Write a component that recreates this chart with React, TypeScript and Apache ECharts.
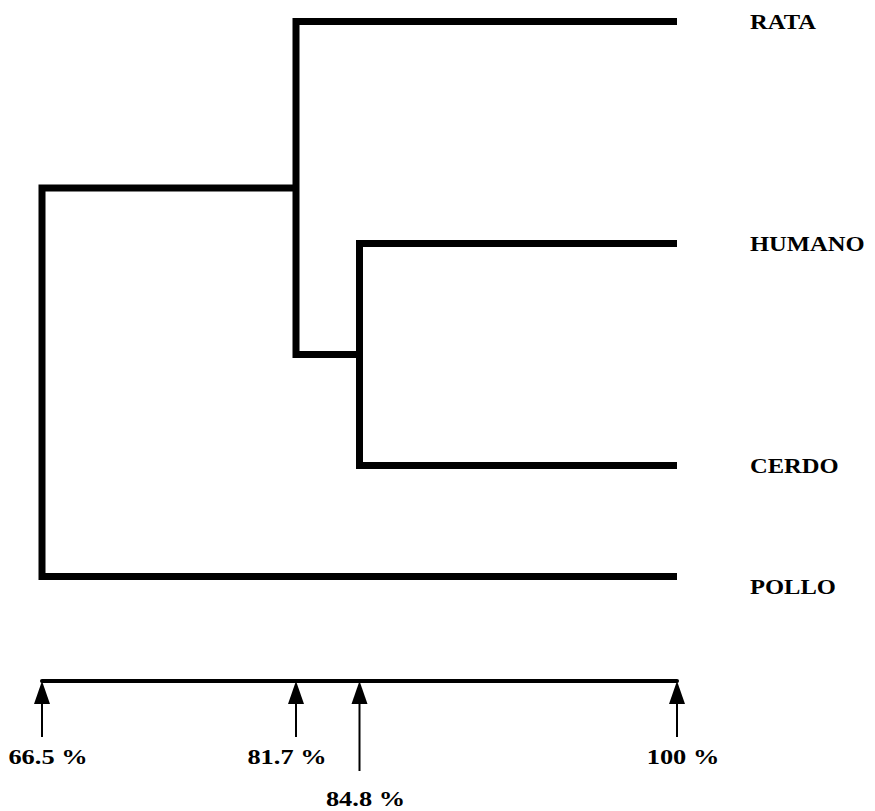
import React, { useEffect, useRef } from "react";
import * as echarts from "echarts";

// Leaves of the dendrogram, top to bottom, with their row on the drawing
const leafNames = ["RATA", "HUMANO", "CERDO", "POLLO"];
const leafRows = [0, 2, 4, 5];
// The drawn similarity scale is schematic (not to scale): positions
const leafPosition = 10;
// Clusters, joined in order; children refer to leaf names or earlier clusters ("c0", "c1")
const clusterLabels = ["84.8 %", "81.7 %", "66.5 %"];
const clusterPositions = [5, 4, 0];
const clusterChildren: string[][] = [
  ["HUMANO", "CERDO"],
  ["RATA", "c0"],
  ["c1", "POLLO"],
];
// Scale below the tree
const scaleTickPositions = [0, 4, 5, 10];
const scaleTickLabels = ["66.5 %", "81.7 %", "84.8 %", "100 %"];
const scaleTickRows = [0, 0, 1, 0];

const FONT = "'Liberation Serif', 'Times New Roman', serif";

export default function App() {
  const ref = useRef<HTMLDivElement>(null);

  useEffect(() => {
    document.body.style.margin = "0";
    if (!ref.current) return;
    const chart = echarts.init(ref.current, null, { renderer: "svg" });

    // node coordinates
    const nodes: Record<string, [number, number]> = {};
    leafNames.forEach((n, i) => {
      nodes[n] = [leafPosition, leafRows[i]];
    });
    const linkData: number[][] = [];
    clusterChildren.forEach((ch, i) => {
      const a = nodes[ch[0]];
      const b = nodes[ch[1]];
      const x = clusterPositions[i];
      nodes["c" + i] = [x, (a[1] + b[1]) / 2];
      linkData.push([a[0], a[1], x, b[1], b[0]]);
    });

    const leafData = leafNames.map((_, i) => [leafPosition, leafRows[i], i]);
    const tickData = scaleTickPositions.map((p, i) => [p, 0, i, scaleTickRows[i]]);
    const labelNudge: Record<string, number> = { POLLO: 10 };
    const tickLabelShift: Record<string, number> = { "81.7 %": -9 };

    const option: any = {
      animation: false,
      backgroundColor: "#ffffff",
      grid: [
        { left: 42, width: 635, top: 21.5, height: 555 },
        { left: 42, width: 635, top: 681, height: 100 },
      ],
      xAxis: [
        { type: "value", gridIndex: 0, min: 0, max: 10, show: false },
        {
          type: "value",
          gridIndex: 1,
          min: 0,
          max: 10,
          position: "top",
          axisLine: { show: true, onZero: false, lineStyle: { color: "#000", width: 4 } },
          axisTick: { show: false },
          axisLabel: { show: false },
          splitLine: { show: false },
        },
      ],
      yAxis: [
        { type: "value", gridIndex: 0, min: 0, max: 5, inverse: true, show: false },
        { type: "value", gridIndex: 1, min: 0, max: 1, inverse: true, show: false },
      ],
      series: [
        {
          type: "custom",
          name: "links",
          xAxisIndex: 0,
          yAxisIndex: 0,
          data: linkData,
          renderItem: (_p: any, api: any) => {
            const ax = api.value(0);
            const ay = api.value(1);
            const x = api.value(2);
            const by = api.value(3);
            const bx = api.value(4);
            const pts = [
              api.coord([ax, ay]),
              api.coord([x, ay]),
              api.coord([x, by]),
              api.coord([bx, by]),
            ];
            return {
              type: "polyline",
              shape: { points: pts },
              style: {
                stroke: "#000",
                lineWidth: 7,
                fill: null,
                lineJoin: "miter",
                lineCap: "butt",
              },
            };
          },
        },
        {
          type: "custom",
          name: "leaves",
          xAxisIndex: 0,
          yAxisIndex: 0,
          data: leafData,
          renderItem: (_p: any, api: any) => {
            const c = api.coord([api.value(0), api.value(1)]);
            const name = leafNames[api.value(2)];
            return {
              type: "text",
              x: c[0] + 73,
              y: c[1] + 1 + (labelNudge[name] || 0),
              scaleX: 1.17,
              style: {
                text: name,
                font: `bold 21px ${FONT}`,
                fill: "#000",
                textAlign: "left",
                textVerticalAlign: "middle",
              },
            };
          },
        },
        {
          type: "custom",
          name: "scale",
          xAxisIndex: 1,
          yAxisIndex: 1,
          data: tickData,
          renderItem: (_p: any, api: any) => {
            const c = api.coord([api.value(0), api.value(1)]);
            const label = scaleTickLabels[api.value(2)];
            const low = api.value(3) === 1;
            const px = c[0];
            const py = c[1];
            const shift = tickLabelShift[label] ?? 6;
            return {
              type: "group",
              children: [
                {
                  type: "polygon",
                  shape: {
                    points: [
                      [px, py],
                      [px - 8, py + 23],
                      [px + 8, py + 23],
                    ],
                  },
                  style: { fill: "#000" },
                },
                {
                  type: "line",
                  shape: { x1: px, y1: py + 20, x2: px, y2: py + (low ? 90 : 56) },
                  style: { stroke: "#000", lineWidth: 2 },
                },
                {
                  type: "text",
                  x: px + shift,
                  y: py + (low ? 117 : 75),
                  scaleX: 1.2,
                  style: {
                    text: label,
                    font: `bold 22px ${FONT}`,
                    fill: "#000",
                    textAlign: "center",
                    textVerticalAlign: "middle",
                  },
                },
              ],
            };
          },
        },
      ],
    };

    chart.setOption(option);
    return () => chart.dispose();
  }, []);

  return <div ref={ref} style={{ width: 875, height: 811 }} />;
}
